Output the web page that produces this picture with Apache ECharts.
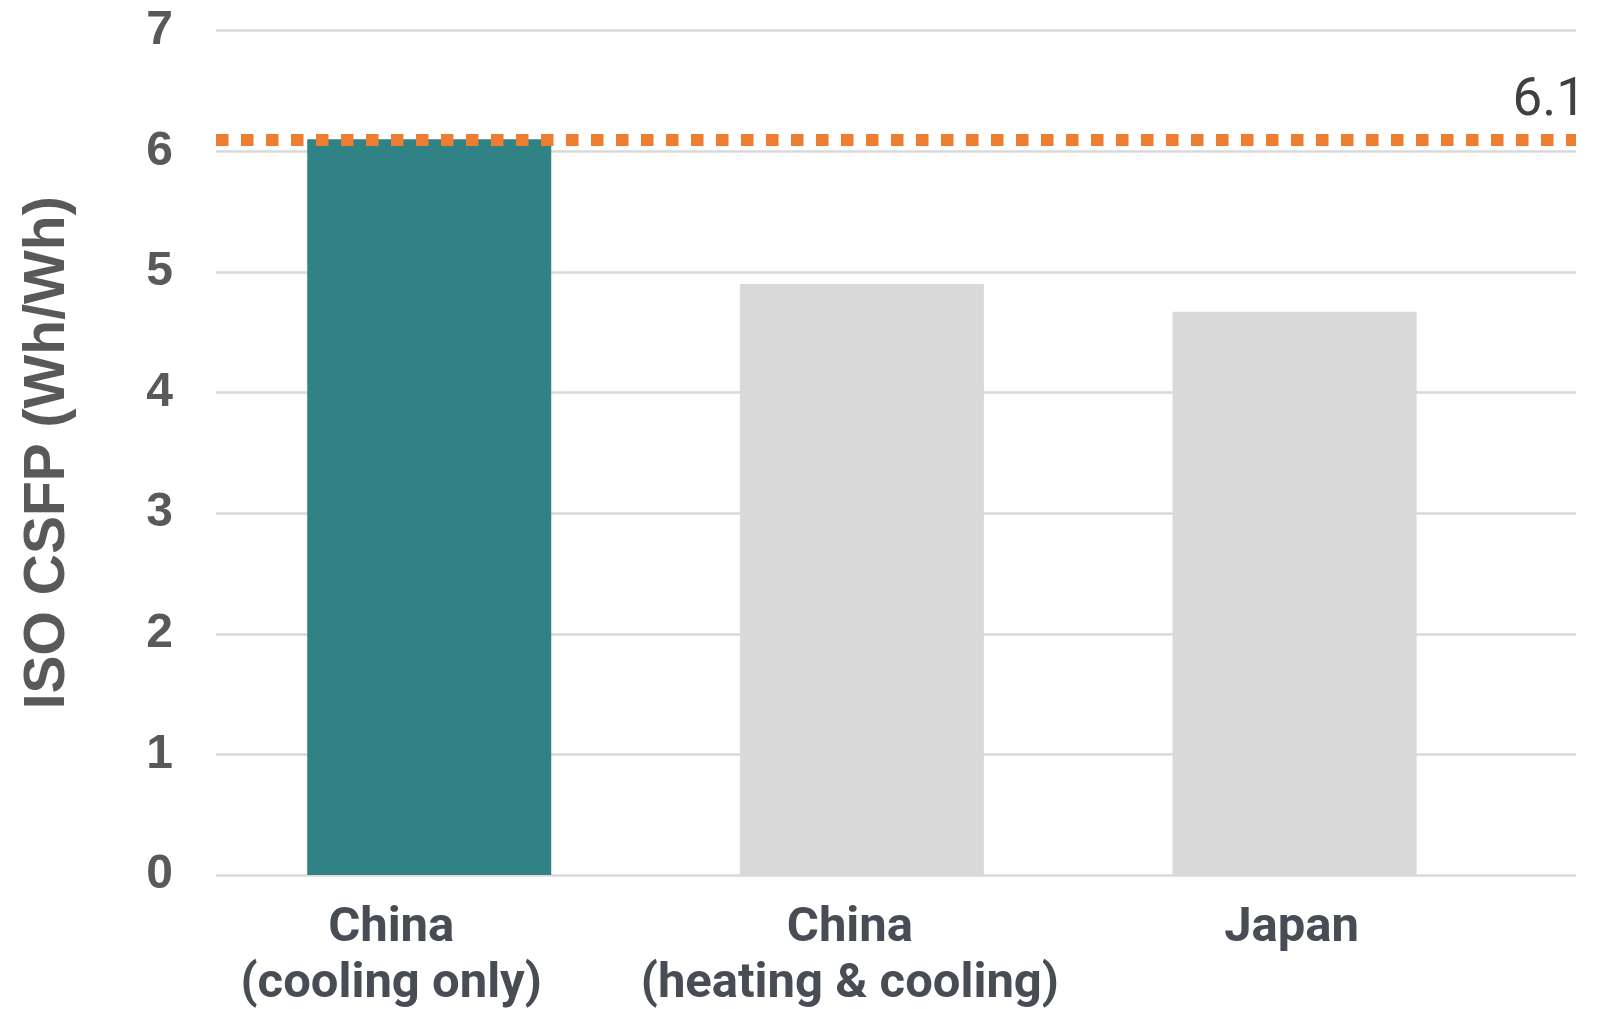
<!DOCTYPE html>
<html>
<head>
<meta charset="utf-8">
<title>ISO CSFP comparison</title>
<script src="https://cdn.jsdelivr.net/npm/echarts@6/dist/echarts.min.js"></script>
<style>
  html, body { margin: 0; padding: 0; background: #ffffff; }
  #chart { width: 1606px; height: 1009px; }
</style>
</head>
<body>
<div id="chart"></div>
<script>
// Markets compared
const categories = ['China\n(cooling only)', 'China\n(heating & cooling)', 'Japan'];
// ISO CSFP, Wh/Wh
const csfpValues = [6.1, 4.9, 4.67];
// Reference level drawn as the dotted line
const referenceLevel = 6.1;
// Value-axis ticks
const yMin = 0;
const yMax = 7;
const yStep = 1;

const HIGHLIGHT = '#318285';
const MUTED = '#d9d9d9';

// small horizontal nudges for the category captions (padding on the right pushes a centred label left)
const captionPadding = [[0, 76, 0, 0], [0, 24, 0, 0], [0, 6, 0, 0]];

const chart = echarts.init(document.getElementById('chart'), null, { renderer: 'canvas' });

const option = {
  animation: false,
  backgroundColor: '#ffffff',
  grid: [
    // grid carrying the value axis, gridlines and the reference line
    { left: 216, right: 30, top: 30.7, bottom: 134, outerBoundsMode: 'none' },
    // grid carrying the bars and category captions
    { left: 212.9, width: 1298, top: 30.7, bottom: 134, outerBoundsMode: 'none' }
  ],
  xAxis: [
    { gridIndex: 0, type: 'category', data: categories, show: false },
    {
      gridIndex: 1,
      type: 'category',
      data: categories.map((c, i) => ({ value: c, textStyle: { padding: captionPadding[i] } })),
      axisLine: { show: false },
      axisTick: { show: false },
      axisLabel: {
        interval: 0,
        margin: 26,
        fontFamily: 'Roboto',
        fontWeight: 'bold',
        fontSize: 49,
        lineHeight: 56,
        color: '#474c55'
      }
    }
  ],
  yAxis: [
    {
      gridIndex: 0,
      type: 'value',
      min: yMin,
      max: yMax,
      interval: yStep,
      axisLine: { show: false },
      axisTick: { show: false },
      axisLabel: {
        margin: 43,
        fontFamily: 'Liberation Sans',
        fontWeight: 'bold',
        fontSize: 48,
        color: '#595959'
      },
      splitLine: { show: true, lineStyle: { color: '#d9d9d9', width: 2.5 } },
      name: 'ISO CSFP (Wh/Wh)',
      nameLocation: 'middle',
      nameRotate: 90,
      nameGap: 139,
      nameTextStyle: {
        fontFamily: 'Liberation Sans',
        fontWeight: 'bold',
        fontSize: 57,
        color: '#595959'
      }
    },
    { gridIndex: 1, type: 'value', min: yMin, max: yMax, interval: yStep, show: false }
  ],
  series: [
    {
      type: 'bar',
      xAxisIndex: 1,
      yAxisIndex: 1,
      barWidth: 244,
      z: 2,
      data: csfpValues.map((v, i) => ({
        value: v,
        itemStyle: { color: i === 0 ? HIGHLIGHT : MUTED }
      }))
    },
    {
      type: 'line',
      xAxisIndex: 0,
      yAxisIndex: 0,
      data: [],
      z: 5,
      markLine: {
        silent: true,
        symbol: ['none', 'none'],
        z: 5,
        data: [{ yAxis: referenceLevel }],
        lineStyle: { color: '#ed7d31', width: 12, type: [12.5, 12.5], cap: 'butt' },
        label: {
          show: true,
          position: 'insideEndTop',
          formatter: '{c}',
          distance: [-10, 11],
          fontFamily: 'Roboto',
          fontSize: 53,
          color: '#404040'
        }
      }
    }
  ]
};

chart.setOption(option);
</script>
</body>
</html>
